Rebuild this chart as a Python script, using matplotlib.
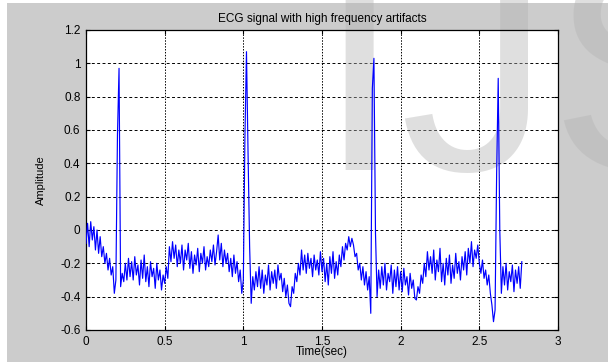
import numpy as np
import matplotlib
matplotlib.use("Agg")
import matplotlib.pyplot as plt
from matplotlib.patches import Rectangle

# ECG samples, one value every 10 ms starting at t = 0
fs = 100
amplitude = [
    -0.08, 0.04, -0.10, 0.05, -0.06, 0.02, -0.12, 0.00, -0.14, -0.04,
    -0.16, -0.10, -0.20, -0.14, -0.24, -0.17, -0.27, -0.22, -0.38, -0.30,
    0.57, 0.97, -0.34, -0.26, -0.31, -0.20, -0.30, -0.17, -0.28, -0.19,
    -0.30, -0.16, -0.27, -0.21, -0.33, -0.18, -0.29, -0.15, -0.31, -0.22,
    -0.34, -0.19, -0.28, -0.23, -0.35, -0.20, -0.30, -0.24, -0.36, -0.27,
    -0.32, -0.22, -0.29, -0.10, -0.19, -0.07, -0.17, -0.09, -0.22, -0.12,
    -0.20, -0.09, -0.24, -0.12, -0.18, -0.08, -0.23, -0.13, -0.26, -0.15,
    -0.21, -0.11, -0.25, -0.14, -0.20, -0.10, -0.24, -0.16, -0.22, -0.12,
    -0.19, -0.09, -0.21, -0.13, -0.03, -0.18, -0.08, -0.22, -0.12, -0.20,
    -0.14, -0.25, -0.17, -0.28, -0.15, -0.26, -0.19, -0.31, -0.24, -0.38,
    -0.30, 0.55, 1.07, 0.46, -0.10, -0.44, -0.28, -0.36, -0.25, -0.34,
    -0.22, -0.35, -0.24, -0.38, -0.27, -0.33, -0.21, -0.36, -0.25, -0.32,
    -0.24, -0.35, -0.21, -0.30, -0.26, -0.37, -0.29, -0.40, -0.33, -0.44,
    -0.46, -0.34, -0.38, -0.26, -0.31, -0.20, -0.27, -0.12, -0.24, -0.15,
    -0.26, -0.14, -0.23, -0.17, -0.28, -0.15, -0.24, -0.18, -0.27, -0.13,
    -0.25, -0.17, -0.31, -0.20, -0.33, -0.16, -0.26, -0.13, -0.29, -0.19,
    -0.27, -0.15, -0.22, -0.10, -0.18, -0.08, -0.12, -0.04, -0.10, -0.05,
    -0.09, -0.16, -0.14, -0.24, -0.20, -0.30, -0.22, -0.33, -0.25, -0.36,
    -0.28, -0.50, 0.85, 1.03, -0.02, -0.40, -0.24, -0.35, -0.22, -0.33,
    -0.20, -0.36, -0.26, -0.31, -0.21, -0.38, -0.24, -0.34, -0.22, -0.36,
    -0.25, -0.37, -0.23, -0.33, -0.28, -0.39, -0.26, -0.35, -0.30, -0.41,
    -0.42, -0.34, -0.38, -0.27, -0.32, -0.20, -0.28, -0.13, -0.24, -0.16,
    -0.26, -0.12, -0.30, -0.18, -0.25, -0.11, -0.31, -0.20, -0.33, -0.17,
    -0.27, -0.15, -0.32, -0.21, -0.29, -0.14, -0.26, -0.19, -0.30, -0.16,
    -0.24, -0.13, -0.27, -0.11, -0.20, -0.07, -0.22, -0.12, -0.17, -0.09,
    -0.20, -0.26, -0.18, -0.29, -0.24, -0.33, -0.27, -0.38, -0.45, -0.55,
    -0.48, 0.34, 0.91, 0.00, -0.38, -0.22, -0.33, -0.20, -0.36, -0.25,
    -0.31, -0.21, -0.37, -0.24, -0.32, -0.22, -0.35, -0.19,
]

x_ticks = [0, 0.5, 1, 1.5, 2, 2.5, 3]
x_labels = ["0", "0.5", "1", "1.5", "2", "2.5", "3"]
y_ticks = [-0.6, -0.4, -0.2, 0, 0.2, 0.4, 0.6, 0.8, 1, 1.2]
y_labels = ["-0.6", "-0.4", "-0.2", "0", "0.2", "0.4", "0.6", "0.8", "1", "1.2"]

time = np.arange(len(amplitude)) / fs

plt.rcParams["font.family"] = ["Liberation Sans", "DejaVu Sans"]

fig = plt.figure(figsize=(6.08, 3.62), dpi=100, facecolor="white")
# grey figure area, with a thin white margin left and top as in the scan
fig.patches.append(Rectangle((7 / 608, 0), 1, 1 - 3 / 362, transform=fig.transFigure,
                             facecolor="#cccccc", edgecolor="none", zorder=-10))

ax = fig.add_axes([86 / 608, 1 - 330 / 362, 472 / 608, 300 / 362])
ax.plot(time, amplitude, color="#0000ff", linewidth=0.85, zorder=3)

ax.set_xlim(0, 3)
ax.set_ylim(-0.6, 1.2)
ax.set_xticks(x_ticks)
ax.set_xticklabels(x_labels)
ax.set_yticks(y_ticks)
ax.set_yticklabels(y_labels)
ax.tick_params(direction="in", top=True, right=True, length=3, width=0.8,
               labelsize=8.5, pad=4, colors="black")
for spine in ax.spines.values():
    spine.set_linewidth(0.9)
    spine.set_color("black")

ax.xaxis.grid(True, color="black", linewidth=0.7, linestyle=(0, (1.5, 1.5)))
ax.yaxis.grid(True, color="black", linewidth=0.7, linestyle=(0, (3, 2.5)))
ax.set_axisbelow(True)

ax.set_title("ECG signal with high frequency artifacts", fontsize=8.5, pad=6)
ax.set_xlabel("Time(sec)", fontsize=8.5)
ax.set_ylabel("Amplitude", fontsize=8)
ax.xaxis.set_label_coords(0.5, -0.055)
ax.yaxis.set_label_coords(-0.085, 0.5)

# faint watermark letters across the picture
ax.text(317 / 608, 1 - 170 / 362, "IJS", transform=fig.transFigure, fontsize=216,
        color="#b4b4b4", alpha=0.42, ha="left", va="baseline", clip_on=False, zorder=2.5)

fig.savefig("out.png", dpi=100, facecolor=fig.get_facecolor())
